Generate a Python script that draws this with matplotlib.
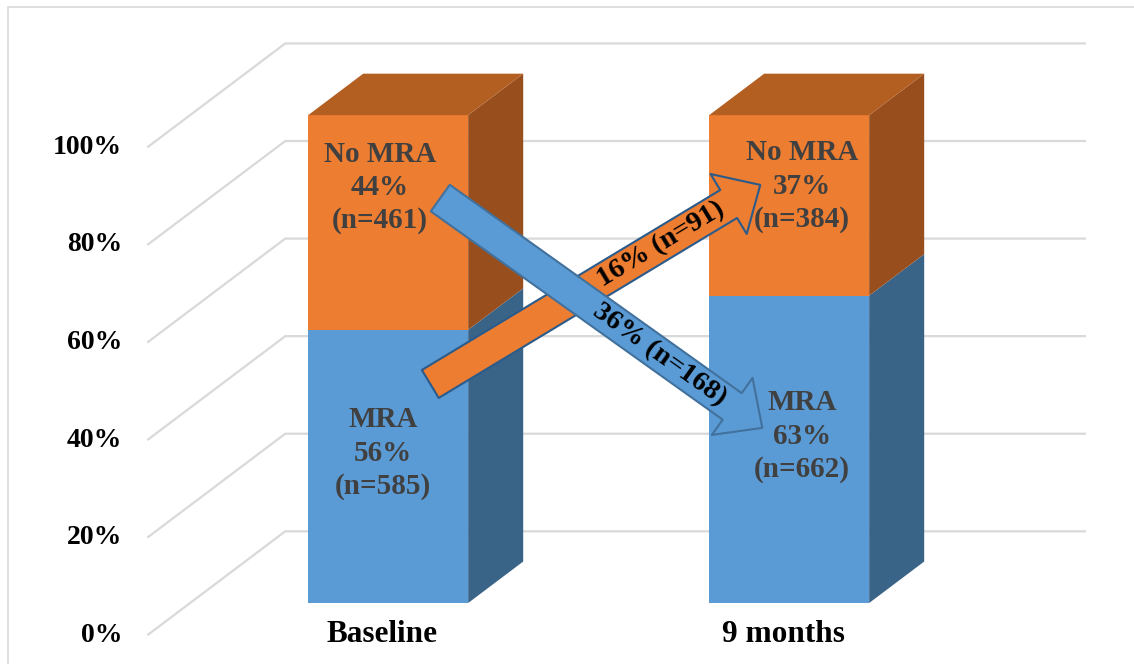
import numpy as np
import matplotlib.pyplot as plt
from matplotlib.patches import Polygon, Rectangle, ArrowStyle

plt.rcParams['font.family'] = ['Liberation Serif', 'DejaVu Serif']
plt.rcParams['font.weight'] = 'bold'

# data
groups = ['Baseline', '9 months']
mra_pct = [56, 63]
mra_n = [585, 662]
nomra_pct = [44, 37]
nomra_n = [461, 384]
yticks = [0, 20, 40, 60, 80, 100]
switch_labels = ['16% (n=91)', '36% (n=168)']   # MRA -> No MRA, No MRA -> MRA

# colours
BLUE, BLUE_SIDE = '#5B9BD5', '#3A6487'
ORANGE, ORANGE_TOP, ORANGE_SIDE = '#ED7D31', '#B45F22', '#994F1D'
GRID = '#D9D9D9'
LABEL = '#404040'

# oblique "3d" projection, data units (x = category, y = percent)
DX, DY = 0.344, 21.3      # full floor depth
D0, D1 = 0.31, 0.709      # bar front / back depth
HALF = 0.1995             # half bar width
XW, XR = -0.494, 1.503    # left wall, right end of back wall


def proj(x, y, d):
    return x + (d - D0) * DX, y + (d - D0) * DY


fig = plt.figure(figsize=(11.34, 6.64), dpi=100)
ax = fig.add_axes([0, 0, 1, 1])
ax.set_xlim(-0.968, 1.860)
ax.set_ylim(-12.5, 123.6)
ax.set_axis_off()

# frame of the picture
fig.add_artist(Rectangle((8 / 1134, -0.1), 1.2, 1.1 - 7 / 664,
                         transform=fig.transFigure, fill=False,
                         ec=GRID, lw=1.2))

# gridlines: left wall diagonal + back wall horizontal
for v in yticks:
    pts = [proj(XW, v, 0), proj(XW, v, 1), proj(XR, v, 1)]
    ax.plot([p[0] for p in pts], [p[1] for p in pts], color=GRID,
            lw=1.6, zorder=1, solid_capstyle='butt')
    ax.annotate(f'{v}%', xy=proj(XW, v, 0), xytext=(-25, 0),
                textcoords='offset pixels', ha='right', va='center',
                fontsize=20, color='black')

# bars
for i, g in enumerate(groups):
    x0, x1 = i - HALF, i + HALF
    segs = [(0, mra_pct[i], BLUE, BLUE_SIDE),
            (mra_pct[i], mra_pct[i] + nomra_pct[i], ORANGE, ORANGE_SIDE)]
    for b, t, front, side in segs:
        ax.add_patch(Polygon([proj(x0, b, D0), proj(x1, b, D0),
                              proj(x1, t, D0), proj(x0, t, D0)],
                             fc=front, lw=0, zorder=2))
        ax.add_patch(Polygon([proj(x1, b, D0), proj(x1, b, D1),
                              proj(x1, t, D1), proj(x1, t, D0)],
                             fc=side, lw=0, zorder=2))
    top = mra_pct[i] + nomra_pct[i]
    ax.add_patch(Polygon([proj(x0, top, D0), proj(x1, top, D0),
                          proj(x1, top, D1), proj(x0, top, D1)],
                         fc=ORANGE_TOP, lw=0, zorder=2))
    ax.annotate(g, xy=(i, 0), xytext=(-6, -31), textcoords='offset pixels',
                ha='center', va='center', fontsize=22.5, color='black')

# data labels (offsets in pixels, nudged as in the original)
mra_off = [(-5, 13), (13, 13)]
nomra_off = [(-8, 35), (13, 19)]
for i in range(len(groups)):
    ax.annotate(f'MRA\n{mra_pct[i]}%\n(n={mra_n[i]})',
                xy=(i, mra_pct[i] / 2), xytext=mra_off[i],
                textcoords='offset pixels', ha='center', va='center',
                fontsize=21, color=LABEL, linespacing=1.3, zorder=4)
    ax.annotate(f'No MRA\n{nomra_pct[i]}%\n(n={nomra_n[i]})',
                xy=(i, mra_pct[i] + nomra_pct[i] / 2), xytext=nomra_off[i],
                textcoords='offset pixels', ha='center', va='center',
                fontsize=21, color=LABEL, linespacing=1.3, zorder=4)

# switching arrows
arrows = [
    # tail, tip, face, edge, text position along arrow
    ((0.105, 44.9), (0.928, 85.7), ORANGE, '#2B5B8B', 0.70),
    ((0.130, 83.0), (0.933, 35.9), BLUE, '#41719C', 0.68),
]
for k, (tail, tip, fc, ec, frac) in enumerate(arrows):
    z = 5 + 2 * k
    style = ArrowStyle.Simple(head_length=26.6, head_width=50.4,
                              tail_width=23.5)
    ax.annotate('', xy=tip, xytext=tail,
                arrowprops=dict(arrowstyle=style, mutation_scale=1,
                                shrinkA=0, shrinkB=0, fc=fc, ec=ec, lw=1.5),
                zorder=z)
    p0 = ax.transData.transform(tail)
    p1 = ax.transData.transform(tip)
    ang = np.degrees(np.arctan2(p1[1] - p0[1], p1[0] - p0[0]))
    tx = tail[0] + frac * (tip[0] - tail[0])
    ty = tail[1] + frac * (tip[1] - tail[1])
    ax.text(tx, ty, switch_labels[k], rotation=ang, rotation_mode='anchor',
            ha='center', va='center', fontsize=20.5, color='black',
            zorder=z + 1)

fig.savefig('out.png', dpi=100)
